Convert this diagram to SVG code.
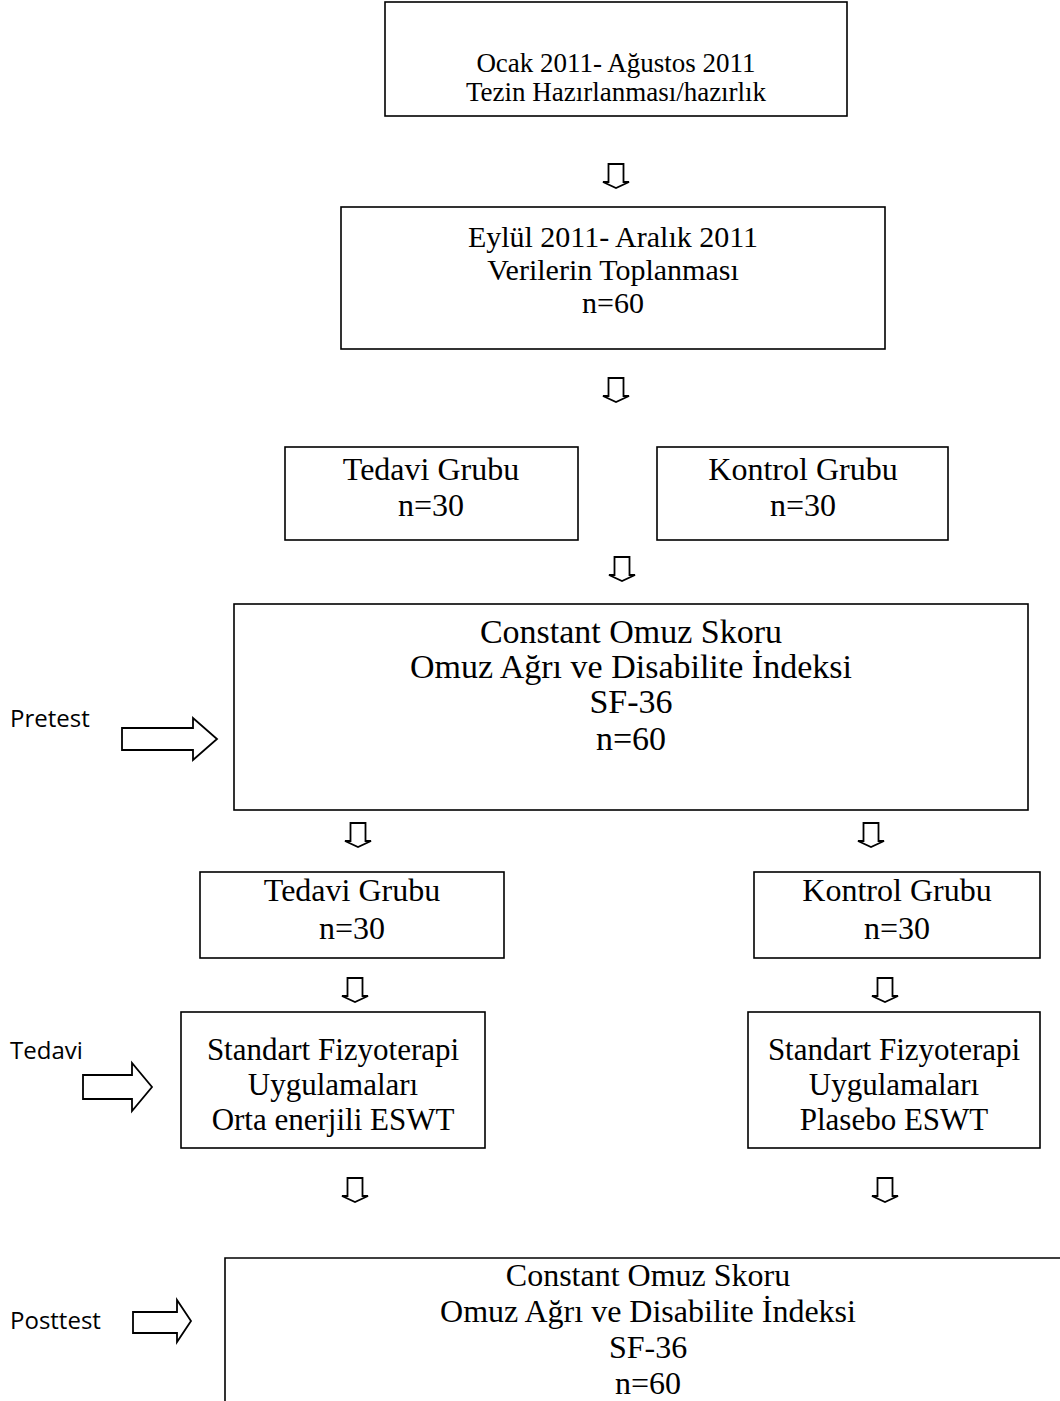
<svg xmlns="http://www.w3.org/2000/svg" width="1060" height="1401" viewBox="0 0 1060 1401">
<style>
.box{fill:#fff;stroke:#000;stroke-width:1.6}
.t{font-family:"Liberation Serif","Times New Roman",serif;fill:#000;text-anchor:middle}
.lbl{font-family:"Open Sans","Noto Sans",sans-serif;fill:#000;font-size:24px}
.arr{fill:#fff;stroke:#000;stroke-width:1.8;stroke-linejoin:miter}
</style>
<defs>
<polygon id="down" points="-7.5,0 7.5,0 7.5,18 13,18 0,24 -13,18 -7.5,18"/>
</defs>
<rect width="1060" height="1401" fill="#fff"/>

<g id="n1">
<rect class="box" x="385" y="2" width="462" height="114"/>
<text class="t" font-size="27" x="616" y="72">Ocak 2011- Ağustos 2011</text>
<text class="t" font-size="27" x="616" y="101">Tezin Hazırlanması/hazırlık</text>
</g>

<g id="n2">
<rect class="box" x="341" y="207" width="544" height="142"/>
<text class="t" font-size="30" x="613" y="247">Eylül 2011- Aralık 2011</text>
<text class="t" font-size="30" x="613" y="280">Verilerin Toplanması</text>
<text class="t" font-size="30" x="613" y="313">n=60</text>
</g>

<g id="n3">
<rect class="box" x="285" y="447" width="293" height="93"/>
<text class="t" font-size="32" x="431" y="480">Tedavi Grubu</text>
<text class="t" font-size="32" x="431" y="516">n=30</text>
</g>

<g id="n4">
<rect class="box" x="657" y="447" width="291" height="93"/>
<text class="t" font-size="32" x="803" y="480">Kontrol Grubu</text>
<text class="t" font-size="32" x="803" y="516">n=30</text>
</g>

<g id="n5">
<rect class="box" x="234" y="604" width="794" height="206"/>
<text class="t" font-size="34" x="631" y="643">Constant Omuz Skoru</text>
<text class="t" font-size="34" x="631" y="678">Omuz Ağrı ve Disabilite İndeksi</text>
<text class="t" font-size="34" x="631" y="713">SF-36</text>
<text class="t" font-size="34" x="631" y="750">n=60</text>
</g>

<g id="n6">
<rect class="box" x="200" y="872" width="304" height="86"/>
<text class="t" font-size="32" x="352" y="901">Tedavi Grubu</text>
<text class="t" font-size="32" x="352" y="939">n=30</text>
</g>

<g id="n7">
<rect class="box" x="754" y="872" width="286" height="86"/>
<text class="t" font-size="32" x="897" y="901">Kontrol Grubu</text>
<text class="t" font-size="32" x="897" y="939">n=30</text>
</g>

<g id="n8">
<rect class="box" x="181" y="1012" width="304" height="136"/>
<text class="t" font-size="31" x="333" y="1060">Standart Fizyoterapi</text>
<text class="t" font-size="31" x="333" y="1095">Uygulamaları</text>
<text class="t" font-size="31" x="333" y="1130">Orta enerjili ESWT</text>
</g>

<g id="n9">
<rect class="box" x="748" y="1012" width="292" height="136"/>
<text class="t" font-size="31" x="894" y="1060">Standart Fizyoterapi</text>
<text class="t" font-size="31" x="894" y="1095">Uygulamaları</text>
<text class="t" font-size="31" x="894" y="1130">Plasebo ESWT</text>
</g>

<g id="n10">
<path class="box" fill="none" d="M225,1401 V1258 H1062"/>
<text class="t" font-size="32" x="648" y="1286">Constant Omuz Skoru</text>
<text class="t" font-size="32" x="648" y="1322">Omuz Ağrı ve Disabilite İndeksi</text>
<text class="t" font-size="32" x="648" y="1358">SF-36</text>
<text class="t" font-size="32" x="648" y="1394">n=60</text>
</g>

<g id="labels">
<text class="lbl" x="10" y="727">Pretest</text>
<text class="lbl" x="10" y="1059">Tedavi</text>
<text class="lbl" x="10" y="1329">Posttest</text>
</g>

<g id="connectors">
<use href="#down" class="arr" x="616" y="164"/>
<use href="#down" class="arr" x="616" y="378"/>
<use href="#down" class="arr" x="622" y="557"/>
<use href="#down" class="arr" x="358" y="823"/>
<use href="#down" class="arr" x="871" y="823"/>
<use href="#down" class="arr" x="355" y="978"/>
<use href="#down" class="arr" x="885" y="978"/>
<use href="#down" class="arr" x="355" y="1178"/>
<use href="#down" class="arr" x="885" y="1178"/>
<polygon class="arr" points="122,728 193,728 193,718 217,739 193,760 193,750 122,750"/>
<polygon class="arr" points="83,1075 132,1075 132,1063 152,1087 132,1111 132,1099 83,1099"/>
<polygon class="arr" points="133,1312 177,1312 177,1300 191,1321 177,1342 177,1333 133,1333"/>
</g>
</svg>
